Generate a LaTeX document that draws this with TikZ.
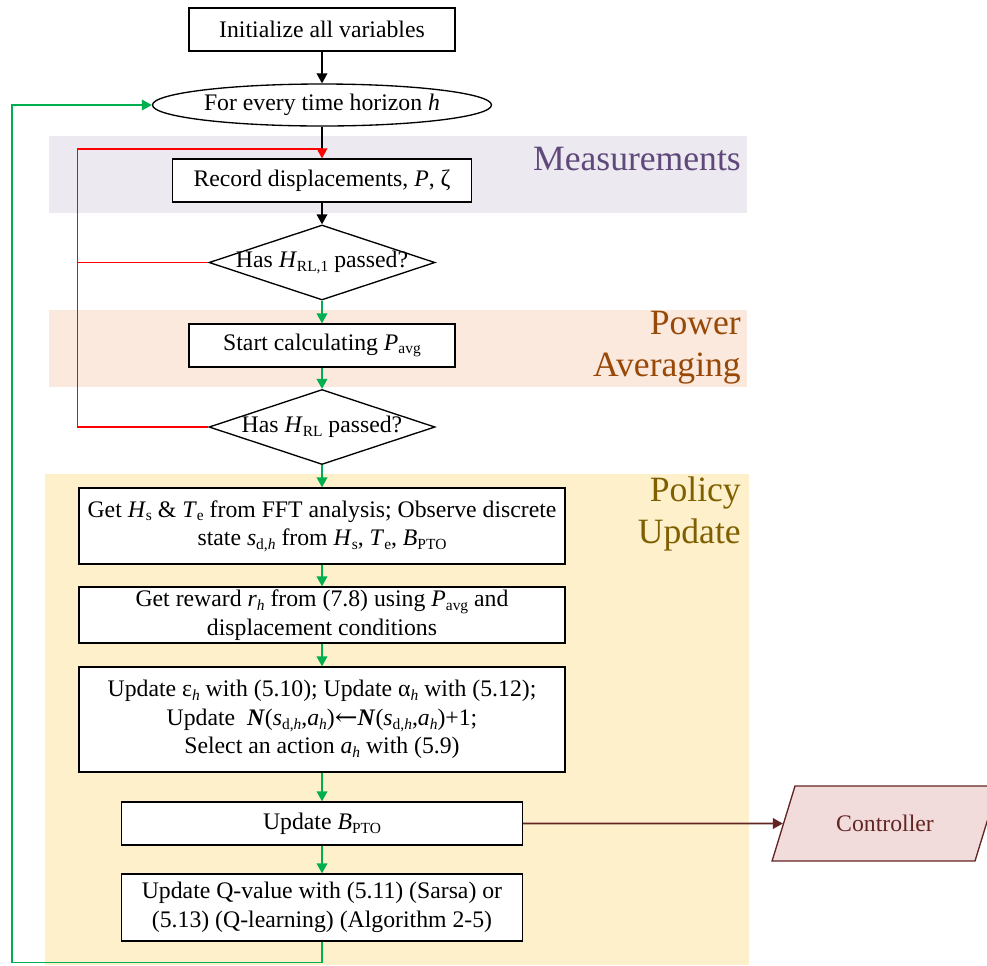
\documentclass[tikz,border=0pt]{standalone}
\usepackage{fontspec}
\setmainfont{Liberation Serif}
\newfontfamily\arrowfont{DejaVu Serif}
\usetikzlibrary{shapes.geometric,arrows.meta}

\definecolor{measfill}{HTML}{ECE9F1}
\definecolor{meastext}{HTML}{5F497A}
\definecolor{powfill}{HTML}{FBE9DE}
\definecolor{powtext}{HTML}{984807}
\definecolor{polfill}{HTML}{FFF0CC}
\definecolor{poltext}{HTML}{7F6000}
\definecolor{ctrlfill}{HTML}{F2DCDB}
\definecolor{ctrlline}{HTML}{632523}
\definecolor{flowgreen}{HTML}{00B050}
\definecolor{flowred}{HTML}{FF0000}

% subscript set in roman, a little below the baseline
\newcommand\lo[1]{\raisebox{-0.35ex}{\fontsize{11.6}{12}\selectfont #1}}
\newcommand\bodyfont{\fontsize{17.8}{21.4}\selectfont}
\newcommand\bandfont{\fontsize{26.7}{31.5}\selectfont}
\newcommand\getsarrow{{\arrowfont\scalebox{1.15}[1]{←}}}

\begin{document}
\begin{tikzpicture}[x=0.75pt,y=-0.75pt,
  every node/.style={font=\bodyfont},
  pbox/.style={draw, fill=white, line width=1pt, inner sep=0pt, align=center},
  decision/.style={diamond, draw, fill=white, line width=1pt, inner sep=0pt,
    minimum width=169.5pt, minimum height=56.25pt},
  tip/.style={-{Triangle[length=7.5pt,width=8pt]}},
  conn/.style={line width=1.2pt},
  blkarr/.style={conn, tip},
  grarr/.style={conn, draw=flowgreen, tip, color=flowgreen},
  redln/.style={conn, draw=flowred},
  redarr/.style={redln, tip, color=flowred},
  bandlabel/.style={font=\bandfont, anchor=base east, align=right, inner sep=0pt},
]
\clip (0,0) rectangle (987,965);

% stage bands
\fill[measfill] (49,136) rectangle (747,212.5);
\fill[powfill]  (49,310) rectangle (747,386.5);
\fill[polfill]  (45,474) rectangle (749,965);
\node[bandlabel, text=meastext] (lmeas) at (741,170) {Measurements};
\node[bandlabel, text=powtext]  (lpow1) at (741,334) {Power};
\node[bandlabel, text=powtext]  (lpow2) at (741,376.5) {Averaging};
\node[bandlabel, text=poltext]  (lpol1) at (741,501) {Policy};
\node[bandlabel, text=poltext]  (lpol2) at (741,543) {Update};

% flow steps
\node[pbox, minimum width=199.5pt, minimum height=32.25pt] (init) at (322,29.5)
  {Initialize all variables};
\node[ellipse, draw, fill=white, line width=1pt, inner sep=0pt,
  minimum width=254.25pt, minimum height=31.5pt] (hor) at (322,105)
  {For every time horizon \textit{h}};
\node[pbox, minimum width=224.25pt, minimum height=32.25pt] (rec) at (322,180.5)
  {Record displacements, \textit{P}, ζ};
\node[decision, label={center:Has \textit{H}\lo{RL,1} passed?}] (d1) at (322,262.5) {};
\node[pbox, minimum width=199.5pt, minimum height=32.25pt] (start) at (322,345.5)
  {Start calculating \textit{P}\lo{avg}};
\node[decision, label={center:Has \textit{H}\lo{RL} passed?}] (d2) at (322,427) {};
\node[pbox, minimum width=364.5pt, minimum height=57pt] (geth) at (322,526)
  {Get \textit{H}\lo{s} \& \textit{T}\lo{e} from FFT analysis; Observe discrete\\
   state \textit{s}\lo{d,\textit{h}} from \textit{H}\lo{s}, \textit{T}\lo{e}, \textit{B}\lo{PTO}};
\node[pbox, minimum width=364.5pt, minimum height=42pt] (rew) at (322,615)
  {Get reward \textit{r}\lo{\textit{h}} from (7.8) using \textit{P}\lo{avg} and\\
   displacement conditions};
\node[pbox, minimum width=364.5pt, minimum height=78.75pt] (upd) at (322,719.5)
  {Update ε\lo{\textit{h}} with (5.10); Update α\lo{\textit{h}} with (5.12);\\
   Update\ \ \textbf{\textit{N}}(\textit{s}\lo{d,\textit{h}},\textit{a}\lo{\textit{h}})\getsarrow\textbf{\textit{N}}(\textit{s}\lo{d,\textit{h}},\textit{a}\lo{\textit{h}})+1;\\
   Select an action \textit{a}\lo{\textit{h}} with (5.9)};
\node[pbox, minimum width=300.75pt, minimum height=32.25pt] (bupd) at (322,823.5)
  {Update \textit{B}\lo{PTO}};
\node[pbox, minimum width=300.75pt, minimum height=50.25pt] (qv) at (322,907.5)
  {Update Q-value with (5.11) (Sarsa) or\\
   (5.13) (Q-learning) (Algorithm 2-5)};
\node[trapezium, trapezium left angle=73, trapezium right angle=107,
  draw=ctrlline, fill=ctrlfill, line width=1pt, text=ctrlline, inner sep=0pt,
  text width=135pt, align=center, text height=34pt, text depth=22.25pt]
  (ctrl) at (885,823.5) {Controller};

% junctions of the loop-back lines
\coordinate (j1) at (322,149);
\coordinate (rl) at (77.5,149);
\coordinate (gl) at (12,962.5);

% connectors
\draw[blkarr] (init) -- (hor);
\draw[conn] (hor.south) -- (j1);
\draw[redarr] (d2.west) -| (rl) -- (j1) -- (rec.north);
\draw[redln] (d1.west) -- (d1.west -| rl);
\draw[blkarr] (rec) -- (d1);
\draw[grarr] (d1.south) -- (start.north);
\draw[grarr] (start) -- (d2.north);
\draw[grarr] (d2.south) -- (geth.north);
\draw[grarr] (geth) -- (rew);
\draw[grarr] (rew) -- (upd);
\draw[grarr] (upd) -- (bupd);
\draw[grarr] (bupd) -- (qv);
\draw[grarr] (qv.south) |- (gl) |- (hor.west);
\draw[conn, draw=ctrlline, tip, color=ctrlline] (bupd.east) -- (ctrl);
\end{tikzpicture}
\end{document}
